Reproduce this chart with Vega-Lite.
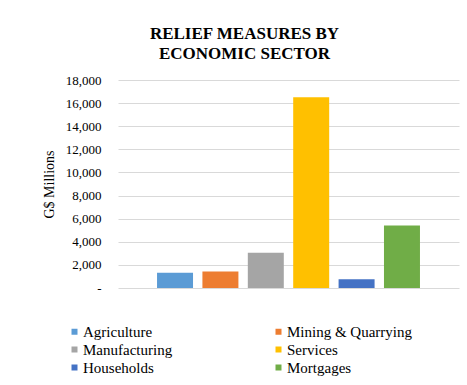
{
  "$schema": "https://vega.github.io/schema/vega-lite/v6.json",
  "autosize": "none",
  "width": 341,
  "height": 208,
  "padding": {"left": 118, "top": 80, "right": 8, "bottom": 97},
  "background": "white",
  "title": {
    "text": ["RELIEF MEASURES BY", "ECONOMIC SECTOR"],
    "font": "'Liberation Serif', 'Times New Roman', serif",
    "fontSize": 17,
    "fontWeight": "bold",
    "color": "#000000",
    "anchor": "middle",
    "frame": "group",
    "dx": -44,
    "offset": 11,
    "lineHeight": 20
  },
  "data": {
    "values": [
      {"sector": "Agriculture", "value": 1330},
      {"sector": "Mining & Quarrying", "value": 1420},
      {"sector": "Manufacturing", "value": 3060},
      {"sector": "Services", "value": 16500},
      {"sector": "Households", "value": 760},
      {"sector": "Mortgages", "value": 5400}
    ]
  },
  "mark": {"type": "bar"},
  "encoding": {
    "x": {
      "field": "sector",
      "type": "nominal",
      "sort": null,
      "scale": {"paddingInner": 0.207, "paddingOuter": 0.86},
      "axis": null
    },
    "y": {
      "field": "value",
      "type": "quantitative",
      "scale": {"domain": [0, 18000], "nice": false},
      "axis": {
        "title": "G$ Millions",
        "titleFontSize": 14,
        "titleFontWeight": "normal",
        "titleColor": "#000000",
        "titlePadding": 9,
        "values": [0, 2000, 4000, 6000, 8000, 10000, 12000, 14000, 16000, 18000],
        "labelExpr": "datum.value == 0 ? '-\u00a0\u00a0\u00a0' : format(datum.value, ',')",
        "labelFontSize": 13,
        "labelColor": "#000000",
        "labelPadding": 17,
        "domain": false,
        "ticks": false,
        "grid": true,
        "gridColor": "#d9d9d9",
        "gridWidth": 1
      }
    },
    "color": {
      "field": "sector",
      "type": "nominal",
      "scale": {
        "domain": ["Agriculture", "Manufacturing", "Households", "Mining & Quarrying", "Services", "Mortgages"],
        "range": ["#5b9bd5", "#a5a5a5", "#4472c4", "#ed7d31", "#ffc000", "#70ad47"]
      },
      "legend": {
        "title": null,
        "orient": "none",
        "legendX": -51,
        "legendY": 244,
        "columns": 2,
        "columnPadding": 98,
        "rowPadding": 2,
        "symbolType": "square",
        "symbolSize": 36,
        "symbolStrokeWidth": 0,
        "labelOffset": 1,
        "labelFontSize": 15,
        "labelColor": "#000000",
        "labelLimit": 200
      }
    }
  },
  "config": {
    "font": "'Liberation Serif', 'Times New Roman', serif",
    "view": {"stroke": null},
    "axis": {"labelFont": "'Liberation Serif', 'Times New Roman', serif", "titleFont": "'Liberation Serif', 'Times New Roman', serif"},
    "legend": {"labelFont": "'Liberation Serif', 'Times New Roman', serif"}
  }
}
